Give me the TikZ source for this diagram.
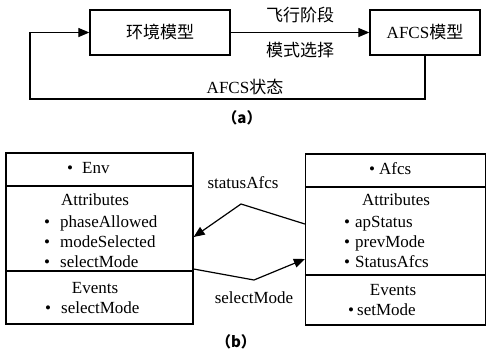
\documentclass[tikz,border=0pt]{standalone}
\usepackage{fontspec}
\setmainfont{Liberation Serif}
\newfontfamily\cjk{Noto Sans CJK SC}
\usetikzlibrary{arrows.meta}
\begin{document}
\begin{tikzpicture}[x=1pt,y=-1pt,
  every node/.style={font=\fontsize{17}{20}\selectfont, inner sep=0pt},
  box/.style={draw, line width=1.3pt},
  conn/.style={line width=1.2pt},
  arr/.style={conn, -{Triangle[length=11pt,width=9pt]}},
  txt/.style={anchor=base},
  item/.style={anchor=base west},
  captxt/.style={font=\cjk\bfseries\fontsize{15}{18}\selectfont}]
\useasboundingbox (0,0) rectangle (488,360);
% ---------- (a) ----------
\node[box, minimum width=140pt, minimum height=45pt] (env) at (160,32.5) {\cjk 环境模型};
\node[box, minimum width=110pt, minimum height=45pt] (afcs) at (425,32.5) {AFCS{\cjk 模型}};
\draw[arr] (env.east) -- (afcs.west);
\node (l1) at (300,15) {\cjk 飞行阶段};
\node (l2) at (300,50) {\cjk 模式选择};
\coordinate (fb) at (30,99);
\draw[arr] (afcs.south) |- (fb) |- (env.west);
\node (l3) at (245,87) {AFCS{\cjk 状态}};
\node[captxt] (capa) at (242,118) {（a）};
% ---------- (b) ----------
\node[box, minimum width=187pt, minimum height=171pt] (envb) at (99.5,238.5) {};
\draw[box] (envb.west |- 0,186) -- (envb.east |- 0,186);
\draw[box] (envb.west |- 0,271) -- (envb.east |- 0,271);
\node[item] (e0) at (67,173) {\textbullet\hspace{9pt}Env};
\node[txt] (e1) at (95,205) {Attributes};
\node[item] (e2) at (44,227) {\textbullet\hspace{10pt}phaseAllowed};
\node[item] (e3) at (44,247) {\textbullet\hspace{10pt}modeSelected};
\node[item] (e4) at (44,267) {\textbullet\hspace{10pt}selectMode};
\node[txt] (e5) at (95,293) {Events};
\node[item] (e6) at (45,313) {\textbullet\hspace{10pt}selectMode};

\node[box, minimum width=180pt, minimum height=171pt] (afcsb) at (395.5,239.5) {};
\draw[box] (afcsb.west |- 0,187) -- (afcsb.east |- 0,187);
\draw[box] (afcsb.west |- 0,275) -- (afcsb.east |- 0,275);
\node[item] (a0) at (369,174) {\textbullet\hspace{4pt}Afcs};
\node[txt] (a1) at (396,205) {Attributes};
\node[item] (a2) at (344,227) {\textbullet\hspace{5pt}apStatus};
\node[item] (a3) at (344,247) {\textbullet\hspace{5pt}prevMode};
\node[item] (a4) at (344,267) {\textbullet\hspace{5pt}StatusAfcs};
\node[txt] (a5) at (393,295) {Events};
\node[item] (a6) at (348,315) {\textbullet\hspace{3pt}setMode};

\coordinate (sp) at (241,204);
\draw[arr] (afcsb.west |- 0,224) -- (sp) -- (envb.east |- 0,237);
\coordinate (mp) at (254,280);
\draw[arr] (envb.east |- 0,269) -- (mp) -- (afcsb.west |- 0,259);
\node[txt] (ls) at (243,188) {statusAfcs};
\node[txt] (lm) at (254,303) {selectMode};
\node[captxt] (capb) at (236,342) {（b）};
\end{tikzpicture}
\end{document}
